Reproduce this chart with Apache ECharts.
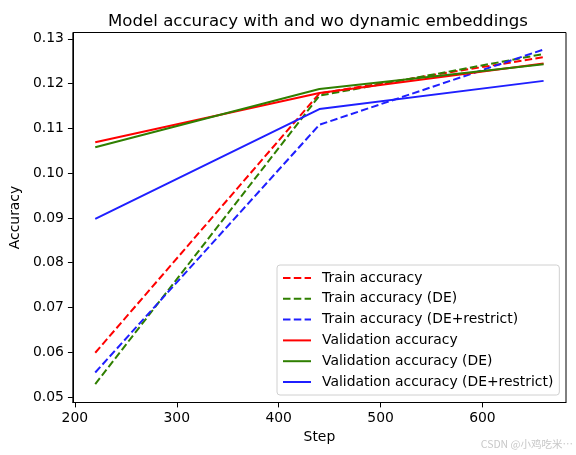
<!DOCTYPE html>
<html>
<head>
<meta charset="utf-8">
<script src="https://cdn.jsdelivr.net/npm/echarts@6/dist/echarts.min.js"></script>
<style>
  html, body { margin: 0; padding: 0; background: #fff; }
  #chart { width: 576px; height: 455px; }
</style>
</head>
<body>
<div id="chart"></div>
<script>
// data
var steps = [220, 440, 660];
var trainAcc = [0.0599, 0.1178, 0.1259];
var trainAccDE = [0.0529, 0.1173, 0.1266];
var trainAccDER = [0.0555, 0.1108, 0.1276];
var valAcc = [0.1069, 0.1179, 0.1245];
var valAccDE = [0.1058, 0.1188, 0.1243];
var valAccDER = [0.0898, 0.1143, 0.1206];
var xTicks = [200, 300, 400, 500, 600];
var yTicks = [0.05, 0.06, 0.07, 0.08, 0.09, 0.10, 0.11, 0.12, 0.13];

var font = 'DejaVu Sans';
var red = '#ff0000', green = '#2f7f00', blue = '#1f1fff';

function pairs(ys) {
  var out = [];
  for (var i = 0; i < steps.length; i++) out.push([steps[i], ys[i]]);
  return out;
}

function mkSeries(name, ys, color, dashed) {
  return {
    name: name,
    type: 'line',
    data: pairs(ys),
    symbol: 'none',
    animation: false,
    itemStyle: { color: color },
    lineStyle: { color: color, width: 2, type: dashed ? [7.5, 3.3] : 'solid' }
  };
}

var chart = echarts.init(document.getElementById('chart'));
var option = {
  backgroundColor: '#fff',
  textStyle: { fontFamily: font },
  title: {
    text: 'Model accuracy with and wo dynamic embeddings',
    left: 313, top: 8, textAlign: 'center',
    textStyle: { fontFamily: font, fontSize: 16.6, fontWeight: 'normal', color: '#000' }
  },
  grid: {
    left: 70.5, right: 10, top: 32.5, bottom: 52.5,
    show: true, borderColor: '#000', borderWidth: 1, containLabel: false
  },
  legend: {
    orient: 'vertical',
    left: 277, top: 265,
    padding: [6, 6, 6, 5],
    itemWidth: 28, itemHeight: 14, itemGap: 6.8,
    backgroundColor: 'rgba(255,255,255,0.8)',
    borderColor: '#d0d0d0', borderWidth: 1, borderRadius: 3,
    itemStyle: { opacity: 0 },
    textStyle: { fontFamily: font, fontSize: 13.9, color: '#000', padding: [0, 0, 0, 6] },
    data: ['Train accuracy', 'Train accuracy (DE)', 'Train accuracy (DE+restrict)',
           'Validation accuracy', 'Validation accuracy (DE)', 'Validation accuracy (DE+restrict)']
  },
  xAxis: {
    type: 'value', min: 198, max: 682,
    name: 'Step', nameLocation: 'middle', nameGap: 27,
    nameTextStyle: { fontFamily: font, fontSize: 13.9, color: '#000' },
    axisLine: { show: true, lineStyle: { color: '#000' } },
    axisTick: { show: true, length: 4.9, lineStyle: { color: '#000' }, customValues: xTicks },
    axisLabel: { color: '#000', fontSize: 13.9, margin: 9, customValues: xTicks },
    splitLine: { show: false }
  },
  yAxis: {
    type: 'value', min: 0.0488, max: 0.1314,
    name: 'Accuracy', nameLocation: 'middle', nameGap: 47,
    nameTextStyle: { fontFamily: font, fontSize: 13.9, color: '#000' },
    axisLine: { show: true, lineStyle: { color: '#000' } },
    axisTick: { show: true, length: 4.9, lineStyle: { color: '#000' }, customValues: yTicks },
    axisLabel: {
      color: '#000', fontSize: 13.9, margin: 9, customValues: yTicks,
      formatter: function (v) { return v.toFixed(2); }
    },
    splitLine: { show: false }
  },
  graphic: [{
    type: 'text', right: 3, bottom: 6,
    style: { text: 'CSDN @小鸡吃米⋯', fill: '#c8c8c8', fontSize: 10.5,
             fontFamily: 'Noto Sans CJK SC' }
  }],
  series: [
    mkSeries('Train accuracy', trainAcc, red, true),
    mkSeries('Train accuracy (DE)', trainAccDE, green, true),
    mkSeries('Train accuracy (DE+restrict)', trainAccDER, blue, true),
    mkSeries('Validation accuracy', valAcc, red, false),
    mkSeries('Validation accuracy (DE)', valAccDE, green, false),
    mkSeries('Validation accuracy (DE+restrict)', valAccDER, blue, false)
  ]
};
chart.setOption(option);
</script>
</body>
</html>
